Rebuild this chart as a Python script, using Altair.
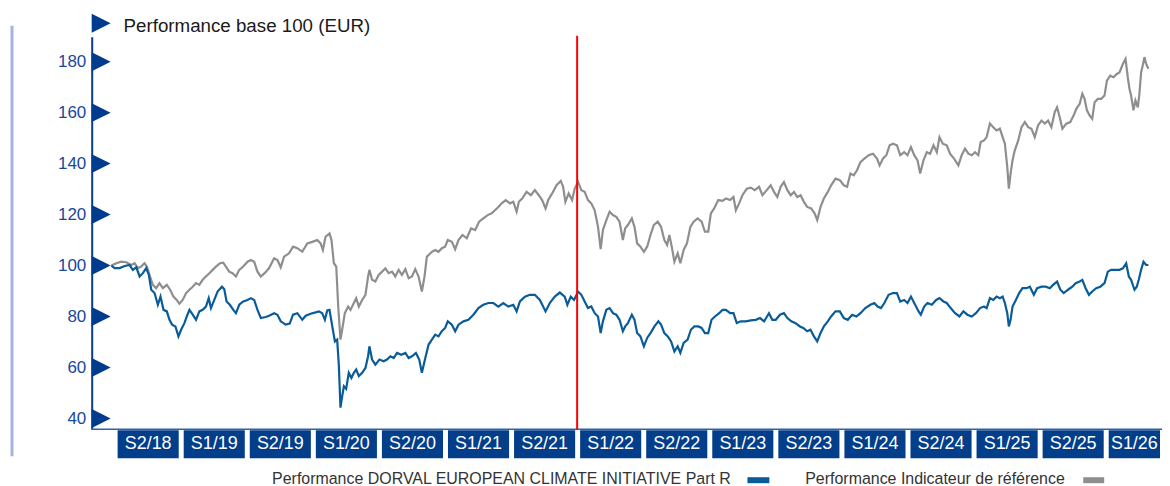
import altair as alt
import pandas as pd

# ---------------- data (decimal year, base-100 value) ----------------
fund_points = [
    (2018.475, 100.0), (2018.500, 99.0), (2018.538, 99.0), (2018.576, 99.8), (2018.613, 100.2),
    (2018.638, 98.3), (2018.664, 99.3), (2018.689, 95.7), (2018.714, 97.0), (2018.739, 99.0),
    (2018.759, 96.3), (2018.777, 90.5), (2018.802, 89.2), (2018.827, 84.6), (2018.847, 87.8),
    (2018.870, 82.6), (2018.895, 82.0), (2018.915, 78.7), (2018.935, 76.8), (2018.960, 76.1),
    (2018.983, 72.2), (2019.003, 74.8), (2019.028, 77.4), (2019.046, 80.0), (2019.066, 82.6),
    (2019.091, 80.7), (2019.116, 78.7), (2019.141, 82.0), (2019.166, 82.6), (2019.191, 83.9),
    (2019.212, 87.2), (2019.229, 83.3), (2019.254, 86.5), (2019.279, 89.8), (2019.312, 91.7),
    (2019.330, 90.7), (2019.347, 85.9), (2019.372, 84.6), (2019.398, 82.6), (2019.418, 81.3),
    (2019.443, 84.6), (2019.473, 85.9), (2019.506, 86.5), (2019.531, 87.2), (2019.556, 86.5),
    (2019.581, 82.6), (2019.606, 79.4), (2019.644, 79.8), (2019.669, 80.3),
    (2019.707, 81.3), (2019.732, 80.7), (2019.757, 78.1), (2019.794, 76.8), (2019.825, 77.2),
    (2019.850, 80.7), (2019.883, 81.3), (2019.920, 78.7), (2019.946, 80.3), (2019.983, 81.1),
    (2020.021, 81.6), (2020.046, 82.0), (2020.071, 81.3), (2020.091, 78.7), (2020.109, 82.4),
    (2020.126, 82.6), (2020.147, 76.1), (2020.167, 70.2), (2020.184, 70.9), (2020.197, 60.5),
    (2020.209, 44.2), (2020.222, 48.7), (2020.235, 52.6), (2020.252, 51.6), (2020.272, 57.9),
    (2020.292, 55.9), (2020.310, 57.9), (2020.328, 59.2), (2020.348, 56.6), (2020.373, 57.9),
    (2020.398, 59.8), (2020.418, 64.4), (2020.428, 68.3), (2020.448, 63.1), (2020.473, 61.1),
    (2020.504, 63.1), (2020.536, 62.4), (2020.561, 63.1), (2020.587, 64.4), (2020.612, 63.7),
    (2020.637, 65.7), (2020.670, 65.0), (2020.700, 65.7), (2020.725, 63.7), (2020.750, 64.4),
    (2020.780, 65.7), (2020.805, 63.1), (2020.825, 57.9), (2020.851, 63.7), (2020.876, 69.0),
    (2020.901, 70.9), (2020.926, 72.9), (2020.951, 72.2), (2020.976, 74.2), (2021.001, 75.5),
    (2021.021, 78.1),
    (2021.052, 76.8), (2021.077, 74.2), (2021.102, 76.8), (2021.140, 78.1), (2021.177, 78.7),
    (2021.215, 80.7), (2021.253, 83.3), (2021.290, 84.6), (2021.328, 85.3), (2021.366, 85.3),
    (2021.404, 83.9), (2021.441, 85.3), (2021.479, 83.9), (2021.517, 84.6), (2021.542, 82.0),
    (2021.567, 85.9), (2021.605, 87.8), (2021.642, 88.5), (2021.680, 88.5), (2021.718, 86.5),
    (2021.761, 82.0), (2021.793, 85.3), (2021.831, 87.8), (2021.869, 89.4), (2021.906, 87.8),
    (2021.926, 84.6), (2021.952, 87.8), (2021.977, 86.5), (2022.007, 89.8), (2022.032, 88.5),
    (2022.057, 85.9), (2022.082, 83.3), (2022.107, 83.9), (2022.133, 81.3), (2022.158, 80.0),
    (2022.178, 73.5), (2022.195, 78.1), (2022.221, 82.6), (2022.246, 83.3), (2022.271, 81.3),
    (2022.296, 80.7), (2022.321, 78.7), (2022.346, 74.2), (2022.364, 76.1), (2022.384, 77.4),
    (2022.414, 80.7), (2022.434, 78.7), (2022.454, 73.5), (2022.479, 72.2), (2022.505, 68.3),
    (2022.530, 71.6), (2022.555, 73.5), (2022.585, 76.1), (2022.615, 78.1), (2022.635, 76.8),
    (2022.660, 73.5), (2022.686, 72.2), (2022.711, 70.2), (2022.736, 66.3), (2022.761, 68.3),
    (2022.781, 65.7), (2022.806, 69.6), (2022.836, 70.9), (2022.861, 74.8), (2022.887, 76.1),
    (2022.917, 76.1), (2022.942, 75.5), (2022.967, 73.5), (2022.992, 73.5), (2023.017, 78.7),
    (2023.043, 80.0), (2023.075, 81.3), (2023.100, 82.6), (2023.126, 82.6), (2023.158, 81.3),
    (2023.183, 81.3), (2023.208, 77.4), (2023.239, 78.1), (2023.276, 78.1), (2023.314, 78.5),
    (2023.352, 78.7), (2023.384, 79.4), (2023.415, 78.1), (2023.452, 81.3), (2023.477, 78.7),
    (2023.503, 78.7), (2023.535, 80.7), (2023.565, 81.3), (2023.591, 79.4), (2023.621, 78.1),
    (2023.653, 77.4), (2023.686, 76.1), (2023.711, 75.5), (2023.741, 74.2),
    (2023.766, 74.8), (2023.792, 72.2), (2023.817, 70.2), (2023.842, 73.5), (2023.867, 76.1),
    (2023.897, 78.1), (2023.922, 80.0), (2023.955, 82.0), (2023.988, 82.0), (2024.018, 79.4),
    (2024.048, 78.7), (2024.081, 80.7), (2024.113, 80.0), (2024.144, 81.3), (2024.181, 83.3),
    (2024.219, 84.6), (2024.249, 85.3), (2024.274, 83.9), (2024.299, 83.3), (2024.325, 85.3),
    (2024.357, 88.5), (2024.390, 89.2), (2024.420, 89.2), (2024.445, 85.9), (2024.475, 86.5),
    (2024.500, 85.3), (2024.526, 87.8), (2024.551, 85.3), (2024.584, 82.0), (2024.601, 80.7),
    (2024.626, 83.9), (2024.651, 85.3), (2024.684, 84.6), (2024.717, 86.5), (2024.742, 87.2),
    (2024.772, 85.9), (2024.797, 85.3), (2024.827, 83.3), (2024.860, 81.3), (2024.893, 80.0),
    (2024.923, 82.0), (2024.953, 80.7), (2024.986, 80.0), (2025.018, 81.3), (2025.049, 83.3),
    (2025.079, 83.9), (2025.099, 83.3),
    (2025.124, 87.2), (2025.149, 86.5), (2025.174, 87.8), (2025.199, 87.2), (2025.220, 87.8),
    (2025.237, 85.3), (2025.255, 81.3), (2025.267, 76.1), (2025.280, 78.7), (2025.295, 83.9),
    (2025.320, 86.5), (2025.345, 89.2), (2025.370, 91.1), (2025.400, 91.1), (2025.426, 91.7),
    (2025.456, 88.5), (2025.481, 91.1), (2025.514, 91.7), (2025.546, 91.7), (2025.577, 91.1),
    (2025.602, 92.4), (2025.632, 93.7), (2025.657, 90.5), (2025.682, 89.2), (2025.715, 90.5),
    (2025.747, 91.7), (2025.773, 93.1), (2025.803, 93.7), (2025.823, 94.4), (2025.848, 91.1),
    (2025.873, 88.5), (2025.898, 89.8), (2025.928, 91.1), (2025.959, 91.7), (2025.991, 93.1),
    (2026.016, 97.6), (2026.041, 98.3), (2026.074, 98.3), (2026.104, 98.3), (2026.130, 98.9),
    (2026.155, 100.9), (2026.175, 95.7), (2026.192, 94.4), (2026.218, 90.5), (2026.235, 91.7),
    (2026.250, 94.4), (2026.268, 98.3), (2026.286, 101.5), (2026.306, 100.2), (2026.323, 100.2),
]

bench_points = [
    (2018.475, 100.0), (2018.513, 100.9), (2018.550, 101.5), (2018.588, 101.3), (2018.626, 100.2),
    (2018.651, 100.9), (2018.676, 99.0), (2018.701, 99.6), (2018.726, 100.9), (2018.744, 99.6),
    (2018.764, 96.3), (2018.789, 92.4), (2018.814, 91.1), (2018.839, 93.1), (2018.865, 91.1),
    (2018.895, 92.4), (2018.920, 90.5), (2018.945, 87.8), (2018.970, 86.5), (2018.990, 85.0),
    (2019.015, 86.5), (2019.041, 89.2), (2019.066, 90.5), (2019.091, 91.7), (2019.116, 93.1),
    (2019.141, 92.4), (2019.166, 94.4), (2019.191, 95.7), (2019.217, 97.0), (2019.242, 98.3),
    (2019.267, 99.6), (2019.297, 100.9), (2019.322, 101.1), (2019.342, 99.6), (2019.367, 97.6),
    (2019.392, 97.0), (2019.418, 95.7), (2019.443, 98.3), (2019.473, 99.6), (2019.506, 101.5),
    (2019.531, 102.2), (2019.556, 101.5), (2019.581, 97.6), (2019.606, 95.7), (2019.639, 97.2),
    (2019.669, 99.0),
    (2019.707, 102.9), (2019.732, 102.2), (2019.757, 99.3), (2019.782, 103.5), (2019.820, 104.8),
    (2019.850, 107.4), (2019.883, 106.8), (2019.920, 105.4), (2019.958, 108.7), (2019.996, 109.3),
    (2020.033, 110.0), (2020.059, 108.7), (2020.076, 106.1), (2020.096, 111.3), (2020.126, 112.6),
    (2020.141, 110.0), (2020.159, 100.9), (2020.177, 99.6), (2020.192, 83.9), (2020.209, 70.9),
    (2020.222, 74.8), (2020.242, 81.3), (2020.267, 83.9), (2020.285, 82.6), (2020.310, 85.3),
    (2020.328, 87.2), (2020.348, 83.9), (2020.373, 86.5), (2020.398, 88.5), (2020.418, 95.7),
    (2020.428, 98.3), (2020.448, 94.4), (2020.473, 93.7), (2020.498, 96.3), (2020.524, 97.6),
    (2020.549, 98.9), (2020.574, 97.0), (2020.599, 97.6), (2020.624, 95.7), (2020.649, 98.3),
    (2020.674, 96.3), (2020.700, 98.6), (2020.725, 95.0), (2020.750, 95.7), (2020.775, 98.6),
    (2020.800, 95.7), (2020.825, 89.8), (2020.845, 95.7), (2020.863, 103.5), (2020.901, 105.4),
    (2020.926, 106.1), (2020.951, 105.4), (2020.976, 106.8), (2021.001, 107.4), (2021.021, 110.0),
    (2021.052, 109.3), (2021.077, 106.4), (2021.102, 110.0), (2021.132, 112.0), (2021.165, 110.7),
    (2021.197, 114.6), (2021.228, 113.9), (2021.258, 117.2), (2021.290, 118.5), (2021.323, 119.8),
    (2021.353, 120.5), (2021.378, 121.7), (2021.404, 123.0), (2021.429, 124.4), (2021.459, 125.7),
    (2021.492, 124.4), (2021.517, 125.0), (2021.542, 121.1), (2021.559, 125.0), (2021.584, 126.3),
    (2021.617, 128.9), (2021.650, 127.6), (2021.680, 129.6), (2021.710, 127.6), (2021.735, 125.7),
    (2021.761, 122.4), (2021.781, 125.7), (2021.811, 128.3), (2021.844, 131.5), (2021.876, 133.2),
    (2021.894, 130.9), (2021.911, 125.0), (2021.936, 128.3), (2021.962, 125.7), (2021.982, 130.2),
    (2022.007, 132.8), (2022.032, 129.6), (2022.057, 128.9), (2022.082, 125.7), (2022.107, 124.4),
    (2022.133, 121.7), (2022.158, 115.2), (2022.178, 106.4), (2022.195, 113.9), (2022.221, 117.8),
    (2022.246, 121.1), (2022.271, 119.8), (2022.296, 119.1), (2022.321, 117.2), (2022.346, 110.0),
    (2022.364, 114.6), (2022.384, 115.9),
    (2022.414, 118.5), (2022.434, 115.2), (2022.454, 108.7), (2022.479, 107.4), (2022.505, 105.4),
    (2022.530, 107.4), (2022.555, 112.0), (2022.580, 115.9), (2022.610, 117.2), (2022.635, 115.2),
    (2022.660, 110.0), (2022.681, 108.1), (2022.698, 112.0), (2022.716, 107.4), (2022.736, 101.5),
    (2022.761, 104.8), (2022.781, 100.9), (2022.806, 106.1), (2022.831, 108.7), (2022.857, 115.2),
    (2022.882, 117.2), (2022.912, 118.5), (2022.942, 117.2), (2022.967, 113.3), (2022.992, 113.3),
    (2023.012, 120.5), (2023.037, 122.4), (2023.068, 125.7), (2023.100, 125.4), (2023.126, 126.3),
    (2023.158, 125.7), (2023.183, 126.9), (2023.201, 121.7), (2023.226, 124.4), (2023.251, 127.6),
    (2023.284, 130.2), (2023.314, 130.6), (2023.344, 129.6), (2023.377, 130.9), (2023.402, 127.6),
    (2023.435, 129.6), (2023.465, 131.5), (2023.490, 128.9), (2023.515, 126.9), (2023.540, 130.9),
    (2023.565, 132.8), (2023.591, 129.6), (2023.616, 127.6), (2023.641, 128.9), (2023.666, 126.9),
    (2023.691, 127.6), (2023.716, 125.0), (2023.741, 123.0),
    (2023.771, 122.4), (2023.797, 120.5), (2023.817, 117.8), (2023.842, 123.0), (2023.867, 126.3),
    (2023.897, 128.9), (2023.922, 131.5), (2023.955, 134.1), (2023.988, 133.5), (2024.018, 131.5),
    (2024.043, 130.9), (2024.068, 136.1), (2024.093, 135.4), (2024.118, 137.4), (2024.144, 140.6),
    (2024.174, 142.0), (2024.206, 143.3), (2024.239, 143.9), (2024.269, 142.0), (2024.289, 139.3),
    (2024.315, 142.0), (2024.340, 143.3), (2024.365, 147.2), (2024.390, 147.8), (2024.420, 147.2),
    (2024.445, 143.3), (2024.475, 144.5), (2024.500, 143.3), (2024.526, 146.5), (2024.551, 143.3),
    (2024.576, 141.3), (2024.596, 136.1), (2024.621, 141.3), (2024.646, 144.5), (2024.671, 143.9),
    (2024.697, 147.2), (2024.722, 144.5), (2024.742, 150.4), (2024.767, 147.8), (2024.797, 147.2),
    (2024.822, 143.9), (2024.852, 142.0), (2024.885, 139.3), (2024.910, 143.3), (2024.935, 145.9),
    (2024.961, 143.9), (2024.986, 143.3), (2025.011, 144.5), (2025.036, 143.3), (2025.054, 148.5),
    (2025.079, 149.1), (2025.099, 150.4),
    (2025.124, 155.7), (2025.149, 154.3), (2025.174, 153.0), (2025.199, 153.7), (2025.220, 150.4),
    (2025.237, 147.8), (2025.255, 138.7), (2025.267, 130.2), (2025.280, 136.1), (2025.295, 141.3),
    (2025.312, 145.2), (2025.338, 149.1), (2025.363, 154.3), (2025.388, 156.3), (2025.413, 154.3),
    (2025.438, 153.7), (2025.463, 150.4), (2025.488, 155.0), (2025.514, 156.9), (2025.539, 155.7),
    (2025.564, 156.9), (2025.589, 154.3), (2025.614, 160.2), (2025.632, 162.1), (2025.652, 158.2),
    (2025.672, 153.7), (2025.702, 155.7), (2025.732, 156.3), (2025.757, 158.9), (2025.778, 161.5),
    (2025.803, 163.5), (2025.823, 167.4), (2025.840, 165.4), (2025.858, 160.9), (2025.878, 158.9),
    (2025.898, 157.6), (2025.916, 164.1), (2025.941, 165.4), (2025.966, 165.4), (2025.991, 166.7),
    (2026.009, 172.6), (2026.034, 174.5), (2026.059, 173.9), (2026.084, 175.2), (2026.104, 175.8),
    (2026.130, 179.1), (2026.150, 181.1), (2026.167, 173.9), (2026.180, 169.3), (2026.192, 166.7),
    (2026.210, 160.9), (2026.225, 164.8), (2026.243, 162.1), (2026.255, 167.4), (2026.268, 175.8),
    (2026.280, 178.5), (2026.293, 181.8), (2026.306, 179.1), (2026.323, 177.2),
]

semester_labels = ["S2/18", "S1/19", "S2/19", "S1/20", "S2/20", "S1/21", "S2/21", "S1/22",
                   "S2/22", "S1/23", "S2/23", "S1/24", "S2/24", "S1/25", "S2/25", "S1/26"]
semester_starts = [2018.5, 2019.0, 2019.5, 2020.0, 2020.5, 2021.0, 2021.5, 2022.0,
                   2022.5, 2023.0, 2023.5, 2024.0, 2024.5, 2025.0, 2025.5, 2026.0]
y_ticks = [40, 60, 80, 100, 120, 140, 160, 180]
marker_year = [2022.0]

title_text = "Performance base 100 (EUR)"
fund_name = "Performance DORVAL EUROPEAN CLIMATE INITIATIVE Part R"
bench_name = "Performance Indicateur de référence"

X_MIN, X_MAX = 2018.3265, 2026.426
Y_MIN, Y_MAX = 35.7, 189.8
W, H = 1074, 394

FONT = "Liberation Sans"
BLUE = "#0a5c99"
GREY = "#8e8e8e"
NAVY = "#023e8a"
LABEL_BLUE = "#17479e"

# ---------------- frames ----------------
fund_df = pd.DataFrame(fund_points, columns=["t", "v"])
bench_df = pd.DataFrame(bench_points, columns=["t", "v"])
sem_df = pd.DataFrame({"label": semester_labels, "start": semester_starts})
sem_df["end"] = (sem_df["start"] + 0.5).clip(upper=X_MAX)
sem_df["mid"] = (sem_df["start"] + sem_df["end"]) / 2
tick_df = pd.DataFrame({"v": y_ticks, "t": X_MIN})
mark_df = pd.DataFrame({"t": marker_year})
one = pd.DataFrame({"k": [0]})

xs = alt.Scale(domain=[X_MIN, X_MAX], nice=False, zero=False)
ys = alt.Scale(domain=[Y_MIN, Y_MAX], nice=False, zero=False)
y_axis = alt.Axis(
    values=y_ticks, title=None, grid=False, ticks=False, tickSize=0,
    domain=True, domainColor="#0a3c8c", domainWidth=2,
    labelFont=FONT, labelFontSize=17, labelColor=LABEL_BLUE, labelPadding=6)

TRI = "M0,-1L2,0L0,1Z"

bench_line = alt.Chart(bench_df).mark_line(color=GREY, strokeWidth=2.2).encode(
    x=alt.X("t:Q", scale=xs, axis=None),
    y=alt.Y("v:Q", scale=ys, axis=y_axis),
)
fund_line = alt.Chart(fund_df).mark_line(color=BLUE, strokeWidth=2.2).encode(
    x=alt.X("t:Q", scale=xs, axis=None),
    y=alt.Y("v:Q", scale=ys, axis=y_axis),
)
red_rule = alt.Chart(mark_df).mark_rule(color="#ff0000", strokeWidth=2).encode(
    x=alt.X("t:Q", scale=xs, axis=None),
    y=alt.value(-1), y2=alt.value(H),
)
tri = alt.Chart(tick_df).mark_point(shape=TRI, size=361, filled=True, opacity=1,
                                    color="#003b8e", strokeWidth=0).encode(
    x=alt.X("t:Q", scale=xs, axis=None),
    y=alt.Y("v:Q", scale=ys, axis=y_axis),
)
top_tri = alt.Chart(one).mark_point(shape=TRI, size=361, filled=True, opacity=1,
                                    color="#003b8e", strokeWidth=0).encode(
    x=alt.value(0), y=alt.value(-13.5))
title_mark = alt.Chart(pd.DataFrame({"label": [title_text]})).mark_text(
    align="left", baseline="middle", font=FONT, fontSize=18.8, color="#1a1a1a").encode(
    x=alt.value(32), y=alt.value(-11), text="label:N")

x_line = alt.Chart(one).mark_rule(color="#2a62b0", strokeWidth=1.5).encode(
    x=alt.value(0), x2=alt.value(W), y=alt.value(H))
left_bar = alt.Chart(one).mark_rule(color="#a7b3df", strokeWidth=3).encode(
    x=alt.value(-80), y=alt.value(-11), y2=alt.value(421))

boxes = alt.Chart(sem_df).mark_rect(color=NAVY, xOffset=3, x2Offset=-2).encode(
    x=alt.X("start:Q", scale=xs, axis=None), x2="end:Q",
    y=alt.value(H + 1), y2=alt.value(H + 29))
box_text = alt.Chart(sem_df).mark_text(color="white", font=FONT, fontSize=18,
                                       baseline="middle", xOffset=0.5).encode(
    x=alt.X("mid:Q", scale=xs, axis=None), y=alt.value(H + 15), text="label:N")

leg1 = alt.Chart(pd.DataFrame({"label": [fund_name]})).mark_text(
    align="left", baseline="middle", font=FONT, fontSize=16, color="#333333").encode(
    x=alt.value(181), y=alt.value(444), text="label:N")
leg1_sw = alt.Chart(one).mark_rect(color=BLUE).encode(
    x=alt.value(658), x2=alt.value(680), y=alt.value(442), y2=alt.value(448))
leg2 = alt.Chart(pd.DataFrame({"label": [bench_name]})).mark_text(
    align="left", baseline="middle", font=FONT, fontSize=16, color="#333333").encode(
    x=alt.value(716), y=alt.value(444), text="label:N")
leg2_sw = alt.Chart(one).mark_rect(color=GREY).encode(
    x=alt.value(995), x2=alt.value(1016), y=alt.value(442), y2=alt.value(448))

chart = alt.layer(
    left_bar, x_line, bench_line, fund_line, red_rule, tri, top_tri, title_mark,
    boxes, box_text, leg1, leg1_sw, leg2, leg2_sw,
).properties(
    width=W, height=H,
    padding={"left": 84, "top": 28, "right": 0, "bottom": 56},
    autosize=alt.AutoSizeParams(type="none"),
    background="white",
).configure_view(stroke=None)

chart.save("out.html", embed_options={"renderer": "svg", "actions": False})
